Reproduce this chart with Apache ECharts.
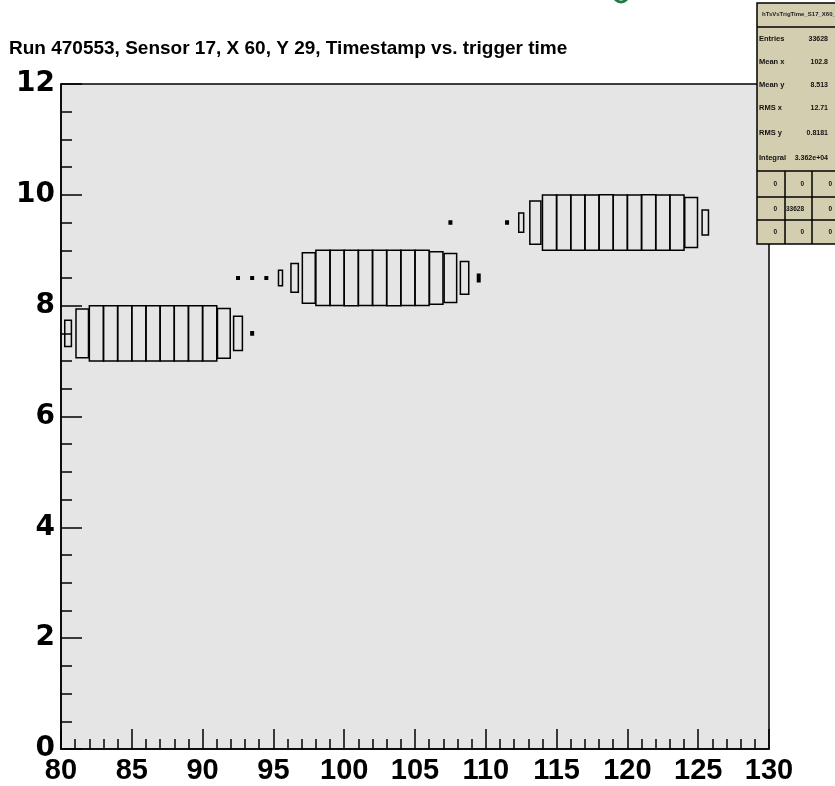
<!DOCTYPE html>
<html>
<head>
<meta charset="utf-8">
<script src="https://cdn.jsdelivr.net/npm/echarts@6/dist/echarts.min.js"></script>
<style>
  html, body { margin: 0; padding: 0; background: #ffffff; }
  #chart { width: 835px; height: 786px; }
</style>
</head>
<body>
<div id="chart"></div>
<script>
// ---- data: 2D histogram cells (bin lower edge in x, bin lower edge in y, content) ----
const titleText = 'Run 470553, Sensor 17, X 60, Y 29, Timestamp vs. trigger time';

const row1Y = 7;
const row1X = [80, 81, 82, 83, 84, 85, 86, 87, 88, 89, 90, 91, 92, 93];
const row1Counts = [218, 767, 982, 985, 983, 980, 986, 983, 984, 981, 987, 800, 380, 3];

const row2Y = 8;
const row2X = [92, 93, 94, 95, 96, 97, 98, 99, 100, 101, 102, 103, 104, 105, 106, 107, 108, 109];
const row2Counts = [2, 2, 2, 78, 267, 820, 982, 982, 986, 983, 980, 985, 983, 984, 890, 770, 345, 18];

const row3Y = 9;
const row3X = [107, 111, 112, 113, 114, 115, 116, 117, 118, 119, 120, 121, 122, 123, 124, 125];
const row3Counts = [3, 3, 120, 600, 981, 984, 979, 983, 986, 980, 982, 985, 981, 983, 800, 200];

const xTicks = [80, 85, 90, 95, 100, 105, 110, 115, 120, 125, 130];
const yTicks = [0, 2, 4, 6, 8, 10, 12];

const statsName = 'hTsVsTrigTime_S17_X60_Y29';
const statsLabels = ['Entries', 'Mean x', 'Mean y', 'RMS x', 'RMS y', 'Integral'];
const statsValues = ['33628', '102.8', '8.513', '12.71', '0.8181', '3.362e+04'];
const statsGrid = [['0', '0', '0'], ['0', '33628', '0'], ['0', '0', '0']];

// ---- build cells ----
const cells = [];
function addRow(xs, y, counts) {
  xs.forEach((x, i) => cells.push([x, y, counts[i]]));
}
addRow(row1X, row1Y, row1Counts);
addRow(row2X, row2Y, row2Counts);
addRow(row3X, row3Y, row3Counts);
const zMax = Math.max(...cells.map(c => c[2]));

const chart = echarts.init(document.getElementById('chart'), null, { renderer: 'canvas' });

const gridLeft = 61, gridRight = 66, gridTop = 84, gridBottom = 37;

// stats box graphics
const sx = 757, sTop = 3, sW = 110;
const statsFont = '"Liberation Sans", Arial, sans-serif';
const statsGraphics = [];
statsGraphics.push({ type: 'rect', shape: { x: sx, y: sTop, width: sW, height: 241 },
  style: { fill: '#d4ceb0', stroke: '#000', lineWidth: 1.5 }, z: 100 });
statsGraphics.push({ type: 'line', shape: { x1: sx, y1: 27, x2: sx + sW, y2: 27 },
  style: { stroke: '#000', lineWidth: 1.5 }, z: 101 });
statsGraphics.push({ type: 'text', x: 762, y: 14, style: { text: statsName, fill: '#222',
  font: 'bold 6px ' + statsFont, textVerticalAlign: 'middle' }, z: 102 });
const statsRowsY = [39, 62, 85, 108, 133, 158];
statsLabels.forEach((lab, i) => {
  statsGraphics.push({ type: 'text', x: 759, y: statsRowsY[i], style: { text: lab, fill: '#111',
    font: 'bold 7.5px ' + statsFont, textVerticalAlign: 'middle' }, z: 102 });
  statsGraphics.push({ type: 'text', x: 828, y: statsRowsY[i], style: { text: statsValues[i], fill: '#111',
    font: 'bold 7px ' + statsFont, textAlign: 'right', textVerticalAlign: 'middle' }, z: 102 });
});
const gridLinesY = [171, 197, 220];
gridLinesY.forEach(y => statsGraphics.push({ type: 'line', shape: { x1: sx, y1: y, x2: sx + sW, y2: y },
  style: { stroke: '#000', lineWidth: 1.5 }, z: 101 }));
const colX = [757, 785, 812, 840];
[785, 812].forEach(x => statsGraphics.push({ type: 'line', shape: { x1: x, y1: 171, x2: x, y2: 244 },
  style: { stroke: '#000', lineWidth: 1.5 }, z: 101 }));
const cellRowsY = [184, 209, 232];
statsGrid.forEach((row, r) => row.forEach((v, c) => {
  statsGraphics.push({ type: 'text', x: colX[c + 1] - 8, y: cellRowsY[r], style: { text: v, fill: '#111',
    font: 'bold 6.5px ' + statsFont, textAlign: 'right', textVerticalAlign: 'middle' }, z: 102 });
}));

const option = {
  backgroundColor: '#ffffff',
  animation: false,
  title: {
    text: titleText, left: 9, top: 39, padding: 0,
    textStyle: { fontFamily: '"Liberation Sans", Arial, sans-serif', fontWeight: 'bold', fontSize: 19, color: '#000' }
  },
  grid: {
    left: gridLeft, right: gridRight, top: gridTop, bottom: gridBottom,
    show: true, backgroundColor: '#e5e5e5', borderColor: '#000', borderWidth: 1.5
  },
  xAxis: {
    type: 'value', min: 80, max: 130, interval: 5,
    axisLine: { show: true, onZero: false, lineStyle: { color: '#000', width: 1.5 } },
    axisTick: { show: true, inside: true, length: 20, lineStyle: { color: '#000', width: 1.5 } },
    minorTick: { show: true, splitNumber: 5, length: 10, lineStyle: { color: '#000', width: 1.5 } },
    splitLine: { show: false },
    axisLabel: {
      margin: 7, color: '#000', fontSize: 29, fontWeight: 'bold',
      fontFamily: '"Liberation Sans", Arial, sans-serif',
      formatter: v => xTicks.includes(v) ? String(v) : ''
    }
  },
  yAxis: {
    type: 'value', min: 0, max: 12, interval: 2,
    axisLine: { show: true, onZero: false, lineStyle: { color: '#000', width: 1.5 } },
    axisTick: { show: true, inside: true, length: 21, lineStyle: { color: '#000', width: 1.5 } },
    minorTick: { show: true, splitNumber: 4, length: 11, lineStyle: { color: '#000', width: 1.5 } },
    splitLine: { show: false },
    axisLabel: {
      margin: 6, color: '#000', fontSize: 28, fontWeight: 'bold',
      fontFamily: '"DejaVu Sans", sans-serif',
      formatter: v => yTicks.includes(v) ? String(v) : ''
    }
  },
  series: [{
    type: 'custom',
    data: cells,
    clip: true,
    renderItem: function (params, api) {
      const x0 = api.value(0), y0 = api.value(1), z = api.value(2);
      const p1 = api.coord([x0, y0 + 1]);
      const p2 = api.coord([x0 + 1, y0]);
      const w = p2[0] - p1[0], h = p2[1] - p1[1];
      const r = Math.sqrt(z / zMax);
      const cx = p1[0] + w / 2, cy = p1[1] + h / 2;
      const bw = Math.max(w * r, 2.5), bh = Math.max(h * r, 2.5);
      const tiny = w * r < 3;
      return {
        type: 'rect',
        shape: { x: cx - bw / 2, y: cy - bh / 2, width: bw, height: bh },
        style: { fill: tiny ? '#000' : 'none', stroke: '#000', lineWidth: 1.5 }
      };
    }
  }],
  graphic: [
    { type: 'arc', shape: { cx: 621, cy: -5, r: 7, startAngle: 0, endAngle: Math.PI }, style: { stroke: '#1d7a45', fill: 'none', lineWidth: 3 }, z: 50 }
  ].concat(statsGraphics)
};
chart.setOption(option);
</script>
</body>
</html>
